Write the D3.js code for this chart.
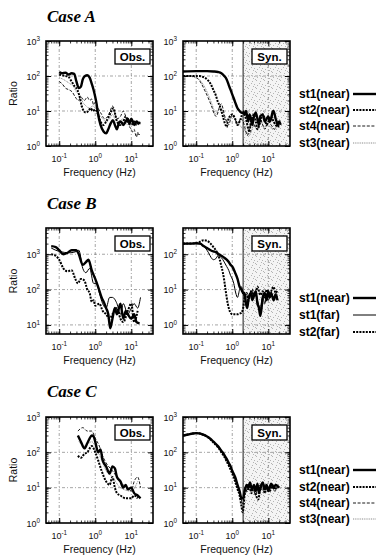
<!DOCTYPE html>
<html><head><meta charset="utf-8">
<script src="https://cdn.jsdelivr.net/npm/d3@7"></script>
<style>body{margin:0;background:#fff}svg{display:block}</style>
</head><body><svg id="c" width="376" height="560"></svg>
<script>
// ---------------- DATA ----------------
const caseTitles = ["Case A", "Case B", "Case C"];
const xTicks = [0.1, 1, 10];
const xDomain = [0.043, 40];
const yDomainA = [1, 1000], yTicksA = [1, 10, 100, 1000];
const yDomainBobs = [5.53, 5530], yTicksBobs = [10, 100, 1000];
const yDomainBsyn = [0.553, 553], yTicksBsyn = [1, 10, 100];
const yDomainC = [1, 1000], yTicksC = [1, 10, 100, 1000];
const synCutoff = 2;
const legendA = ["st1(near)", "st2(near)", "st4(near)", "st3(near)"];
const legendB = ["st1(near)", "st1(far)", "st2(far)"];
const legendC = ["st1(near)", "st2(near)", "st4(near)", "st3(near)"];

// Case A observed
const obsA_st1 = [[0.1,130],[0.12,120],[0.15,125],[0.18,110],[0.22,120],[0.26,115],[0.3,70],[0.35,45],[0.4,50],[0.45,80],[0.52,100],[0.6,105],[0.7,90],[0.8,60],[0.9,40],[1.0,25],[1.1,15],[1.2,8],[1.4,4],[1.7,2.6],[2.0,2.3],[2.3,3],[2.7,4.5],[3.1,5.5],[3.5,4],[4,3],[4.5,4.5],[5,5],[6,4],[7,5],[8,6],[9,4.5],[10,6],[11,5],[12,4],[14,5],[16,4.5],[18,4.5]];
const obsA_st2 = [[0.1,110],[0.12,105],[0.15,100],[0.18,95],[0.22,70],[0.27,50],[0.32,40],[0.37,25],[0.42,14],[0.48,10],[0.55,9],[0.65,10],[0.75,12],[0.85,10],[1.0,11],[1.2,8],[1.4,5],[1.7,4],[2.0,5],[2.4,7],[2.8,10],[3.2,12],[3.6,8],[4,5],[5,4],[6,5],[7,7],[8,5],[10,4],[12,5],[14,4],[17,5]];
const obsA_st4 = [[0.1,70],[0.12,60],[0.15,45],[0.19,40],[0.23,35],[0.28,25],[0.34,20],[0.4,25],[0.5,20],[0.6,25],[0.7,20],[0.8,22],[0.9,15],[1.0,18],[1.2,12],[1.5,8],[1.8,6],[2.2,7],[2.6,10],[3.0,14],[3.4,9],[4,6],[5,7],[6,10],[7,7],[8,5],[9,3.5],[10,3],[11,2.5],[12,3],[13,2.2],[14,1.8],[15,2.5],[16,2],[17,2.2]];
const obsA_st3 = [[0.1,90],[0.13,80],[0.16,70],[0.2,60],[0.25,50],[0.3,35],[0.38,28],[0.45,18],[0.55,14],[0.7,12],[0.85,14],[1.0,12],[1.3,8],[1.6,6],[2,5],[2.5,6],[3,8],[3.5,6],[4.5,5],[6,6],[8,4],[10,5],[13,4],[17,5]];
// Case A synthetic
const synA_st1 = [[0.043,135],[0.1,138],[0.2,138],[0.3,135],[0.4,130],[0.5,120],[0.6,100],[0.7,80],[0.8,55],[0.9,40],[1.0,30],[1.2,18],[1.4,12],[1.6,10],[1.8,9],[2.0,9],[2.2,8],[2.4,10],[2.6,7],[2.8,5],[3.0,8],[3.3,6],[3.6,4],[4,7],[4.5,9],[5,6],[5.5,4],[6,7],[7,8],[8,5],[9,6],[10,7],[11,5],[12,6],[13,9],[14,10],[15,8],[16,6],[17,5],[18,4],[20,5],[22,4]];
const synA_st2 = [[0.043,100],[0.08,100],[0.12,100],[0.15,95],[0.2,80],[0.25,60],[0.3,40],[0.35,28],[0.4,18],[0.45,14],[0.5,10],[0.55,7],[0.6,5],[0.65,4],[0.7,3.5],[0.75,5],[0.85,7],[1.0,8],[1.2,6],[1.4,4],[1.6,5],[1.8,7],[2.0,10],[2.2,8],[2.5,5],[2.8,3],[3.0,2.5],[3.2,4],[3.5,6],[4,8],[4.5,5],[5,3],[6,5],[7,8],[8,6],[9,4],[10,5],[12,7],[14,5],[16,4],[18,3.5],[20,4]];
const synA_st4 = [[0.043,100],[0.07,100],[0.09,95],[0.11,85],[0.14,60],[0.17,40],[0.2,28],[0.24,18],[0.28,12],[0.32,8],[0.36,7],[0.4,9],[0.45,14],[0.5,16],[0.55,12],[0.6,8],[0.7,5],[0.8,4],[0.9,6],[1.0,8],[1.2,6],[1.4,4],[1.7,6],[2,5],[2.3,3],[2.6,2],[3,3],[3.5,5],[4,4],[5,3],[6,6],[7,4],[8,3],[10,5],[12,4],[15,3],[18,4]];
const synA_st3 = [[0.043,100],[0.08,95],[0.12,80],[0.16,55],[0.2,35],[0.25,20],[0.3,12],[0.35,8],[0.4,10],[0.5,12],[0.6,7],[0.7,5],[0.85,6],[1.0,7],[1.3,5],[1.6,4],[2,3],[2.5,2.5],[3,2],[3.5,3],[4,4],[5,3],[6,5],[8,3.5],[10,4],[13,3],[17,3.5]];
// Case B observed
const obsB_st1near = [[0.06,1700],[0.08,1600],[0.1,1300],[0.13,1000],[0.17,1100],[0.22,1300],[0.3,1300],[0.35,1000],[0.45,500],[0.55,600],[0.65,700],[0.8,350],[1.0,200],[1.2,120],[1.5,60],[1.8,40],[2.0,30],[2.3,20],[2.6,8],[3,15],[3.5,30],[4,20],[5,40],[6,15],[7,25],[8,20],[10,15],[12,20],[14,12],[17,11]];
const obsB_st1far = [[0.06,1500],[0.1,1200],[0.2,1100],[0.3,1200],[0.35,1300],[0.45,400],[0.55,300],[0.7,400],[0.9,150],[1.1,150],[1.3,80],[1.6,40],[2,30],[2.5,60],[3,60],[4,40],[5,20],[6,40],[8,20],[10,30],[12,40],[15,30],[18,60]];
const obsB_st2far = [[0.06,1000],[0.08,900],[0.1,700],[0.13,400],[0.17,330],[0.22,350],[0.28,200],[0.33,150],[0.4,200],[0.5,180],[0.6,100],[0.7,80],[0.8,45],[0.9,50],[1.0,35],[1.3,40],[1.6,25],[2,20],[2.5,15],[3,20],[4,30],[5,15],[6,12],[8,25],[10,40],[12,12],[15,25]];
// Case B synthetic
const synB_st1near = [[0.043,200],[0.07,200],[0.1,205],[0.13,200],[0.16,170],[0.2,150],[0.25,130],[0.3,120],[0.35,115],[0.4,105],[0.5,90],[0.6,80],[0.7,70],[0.8,60],[0.9,50],[1.0,45],[1.2,30],[1.4,20],[1.6,12],[1.8,10],[2.0,8],[2.2,8],[2.4,4],[2.6,3],[2.8,5],[3,7],[3.3,8],[3.6,5],[4,7],[4.5,9],[5,4],[5.5,3],[6,1.8],[6.5,3],[7,6],[8,8],[9,5],[10,9],[11,6],[12,8],[14,5],[16,7],[18,5]];
const synB_st1far = [[0.043,200],[0.07,200],[0.1,200],[0.14,190],[0.18,150],[0.22,110],[0.26,80],[0.3,70],[0.35,75],[0.4,90],[0.5,80],[0.6,60],[0.7,45],[0.8,35],[0.9,25],[1.0,20],[1.1,15],[1.25,8],[1.4,6],[1.6,10],[1.8,12],[2.0,8],[2.3,5],[2.6,4],[3,7],[3.5,9],[4,6],[4.5,8],[5,5],[6,3],[7,6],[8,4],[9,7],[10,5],[12,8],[14,6],[16,8],[18,6]];
const synB_st2far = [[0.043,200],[0.08,200],[0.12,220],[0.16,250],[0.2,240],[0.25,200],[0.3,160],[0.35,130],[0.4,100],[0.45,70],[0.5,45],[0.55,30],[0.6,18],[0.65,10],[0.7,6],[0.75,4],[0.8,3],[0.9,2.2],[1.0,2],[1.2,2],[1.4,2],[1.6,2.1],[1.8,2.2],[2.0,3],[2.2,6],[2.5,8],[2.8,5],[3.2,8],[3.6,10],[4,6],[4.5,8],[5,12],[6,7],[7,9],[8,6],[9,10],[10,7],[12,9],[14,12],[16,8],[18,10]];
// Case C observed
const obsC_st1 = [[0.33,300],[0.4,200],[0.5,130],[0.6,180],[0.7,250],[0.8,300],[0.9,280],[1.0,200],[1.2,100],[1.4,120],[1.6,60],[2,40],[2.5,25],[3,40],[3.5,35],[4,20],[5,15],[6,10],[7,12],[8,9],[10,10],[12,7],[15,6],[18,5]];
const obsC_st2 = [[0.33,80],[0.4,70],[0.5,90],[0.6,100],[0.8,150],[1.0,100],[1.2,60],[1.5,30],[2,15],[2.5,12],[3,20],[3.5,10],[4,7],[5,6],[7,5],[10,5],[12,6],[15,5]];
const obsC_st4 = [[0.33,400],[0.45,500],[0.6,400],[0.8,400],[1.0,250],[1.3,150],[1.6,80],[2,50],[3,30],[4,20],[6,12],[8,10],[10,8],[12,15],[15,20],[18,10]];
const obsC_st3 = [[0.35,200],[0.5,150],[0.8,200],[1.0,150],[1.5,60],[2,30],[3,20],[5,10],[10,8],[15,15]];
// Case C synthetic
const synC_st1 = [[0.043,300],[0.06,320],[0.08,340],[0.1,350],[0.12,345],[0.15,320],[0.2,280],[0.25,240],[0.3,200],[0.4,150],[0.5,110],[0.6,85],[0.7,65],[0.8,50],[0.9,40],[1.0,30],[1.2,20],[1.4,12],[1.6,8],[1.8,5],[2.0,5],[2.2,8],[2.5,12],[2.8,10],[3.1,14],[3.5,9],[4,12],[4.5,8],[5,13],[5.5,7],[6,10],[7,14],[8,9],[9,12],[10,8],[12,13],[14,10],[16,12],[18,11],[20,10]];
const synC_st2 = [[0.043,300],[0.06,320],[0.08,340],[0.1,350],[0.12,345],[0.15,320],[0.2,280],[0.25,230],[0.3,190],[0.4,140],[0.5,100],[0.6,75],[0.7,55],[0.8,42],[0.9,32],[1.0,25],[1.2,15],[1.4,9],[1.6,6],[1.8,3],[1.95,2],[2.1,3.5],[2.3,10],[2.6,8],[3,12],[3.4,7],[4,10],[4.6,6],[5.2,4.6],[6,9],[7,12],[8,7],[9,10],[11,8],[13,12],[15,9],[18,12]];
const synC_st4 = [[0.043,300],[0.08,335],[0.12,340],[0.2,275],[0.3,195],[0.5,105],[0.7,60],[0.9,36],[1.1,22],[1.4,11],[1.7,6],[1.9,3.5],[2.1,5],[2.4,9],[2.8,13],[3.2,8],[3.8,11],[4.4,6],[5,9],[6,12],[7,8],[8.5,13],[10,9],[12,11],[15,8],[18,10]];
const synC_st3 = [[0.043,300],[0.1,345],[0.2,278],[0.3,198],[0.5,108],[0.7,62],[0.9,38],[1.2,18],[1.5,9],[1.8,4.5],[2.1,6],[2.5,11],[3,9],[3.5,12],[4.2,7],[5,10],[6,8],[7.5,12],[9,9],[11,11],[14,9],[18,10]];

// ---------------- STYLES ----------------
const lineStyle = {
  "st1(near)": {w: 2.4, dash: null, c: "#000"},
  "st2(near)": {w: 2.0, dash: "2,1.2", c: "#000"},
  "st4(near)": {w: 0.9, dash: "3,1.6", c: "#000"},
  "st3(near)": {w: 1.0, dash: "1,0.8", c: "#8a8a8a"},
  "st1(far)":  {w: 1.0, dash: null, c: "#000"},
  "st2(far)":  {w: 2.0, dash: "2,1.2", c: "#000"}
};

const svg = d3.select("#c");
const font = "'Liberation Sans', Arial, sans-serif";

// stipple pattern for the synthetic high-frequency zone
const defs = svg.append("defs");
const pat = defs.append("pattern").attr("id", "stip").attr("patternUnits", "userSpaceOnUse")
  .attr("width", 8).attr("height", 8);
pat.append("rect").attr("width", 8).attr("height", 8).attr("fill", "#f4f4f4");
[[0,0],[4,1],[6,4],[1,5],[3,3],[7,7],[5,6]].forEach(p =>
  pat.append("rect").attr("x", p[0]).attr("y", p[1]).attr("width", 1).attr("height", 1).attr("fill", "#b4b4b4"));

const PW = 107;
const panels = [
  {x0: 46,  y0: 41,  h: 105, yDom: yDomainA, yT: yTicksA, syn: false, series: [["st4(near)", obsA_st4],["st3(near)", obsA_st3],["st2(near)", obsA_st2],["st1(near)", obsA_st1]], box: "Obs."},
  {x0: 183, y0: 41,  h: 105, yDom: yDomainA, yT: yTicksA, syn: true,  series: [["st3(near)", synA_st3],["st4(near)", synA_st4],["st2(near)", synA_st2],["st1(near)", synA_st1]], box: "Syn."},
  {x0: 46,  y0: 228, h: 106, yDom: yDomainBobs, yT: yTicksBobs, syn: false, series: [["st1(far)", obsB_st1far],["st2(far)", obsB_st2far],["st1(near)", obsB_st1near]], box: "Obs."},
  {x0: 183, y0: 228, h: 106, yDom: yDomainBsyn, yT: yTicksBsyn, syn: true,  series: [["st1(far)", synB_st1far],["st2(far)", synB_st2far],["st1(near)", synB_st1near]], box: "Syn."},
  {x0: 46,  y0: 417, h: 106, yDom: yDomainC, yT: yTicksC, syn: false, series: [["st3(near)", obsC_st3],["st4(near)", obsC_st4],["st2(near)", obsC_st2],["st1(near)", obsC_st1]], box: "Obs."},
  {x0: 183, y0: 417, h: 106, yDom: yDomainC, yT: yTicksC, syn: true,  series: [["st3(near)", synC_st3],["st4(near)", synC_st4],["st2(near)", synC_st2],["st1(near)", synC_st1]], box: "Syn."}
];

function minorVals(dom) {
  const out = [];
  const lo = Math.floor(Math.log10(dom[0])), hi = Math.ceil(Math.log10(dom[1]));
  for (let d = lo; d <= hi; d++) for (let k = 1; k <= 9; k++) {
    const v = k * Math.pow(10, d);
    if (v >= dom[0] * 1.0001 && v <= dom[1] * 0.9999) out.push(v);
  }
  return out;
}
function expLabel(sel, v, size) {
  const e = Math.round(Math.log10(v));
  sel.append("tspan").text("10").attr("font-size", size);
  sel.append("tspan").text(e < 0 ? "-" + (-e) : String(e)).attr("font-size", size * 0.7).attr("dy", -size * 0.42);
}

panels.forEach((p, i) => {
  const x = d3.scaleLog().domain(xDomain).range([p.x0, p.x0 + PW]);
  const y = d3.scaleLog().domain(p.yDom).range([p.y0 + p.h, p.y0]);
  const g = svg.append("g");
  const cid = "clip" + i;
  defs.append("clipPath").attr("id", cid).append("rect")
    .attr("x", p.x0).attr("y", p.y0).attr("width", PW).attr("height", p.h);

  if (p.syn) {
    g.append("rect").attr("x", x(synCutoff)).attr("y", p.y0)
      .attr("width", p.x0 + PW - x(synCutoff)).attr("height", p.h).attr("fill", "url(#stip)");
  }
  // grid
  const grid = g.append("g").attr("stroke", "#6a6a6a").attr("stroke-width", 0.6).attr("stroke-dasharray", "3,2,1,2");
  xTicks.forEach(t => grid.append("line").attr("x1", x(t)).attr("x2", x(t)).attr("y1", p.y0).attr("y2", p.y0 + p.h));
  p.yT.forEach(t => { if (y(t) > p.y0 + 1 && y(t) < p.y0 + p.h - 1)
    grid.append("line").attr("x1", p.x0).attr("x2", p.x0 + PW).attr("y1", y(t)).attr("y2", y(t)); });
  if (p.syn) {
    g.append("line").attr("x1", x(synCutoff)).attr("x2", x(synCutoff)).attr("y1", p.y0).attr("y2", p.y0 + p.h)
      .attr("stroke", "#000").attr("stroke-width", 0.9);
  }
  // series
  const line = d3.line().x(d => x(d[0])).y(d => y(d[1])).curve(d3.curveMonotoneX);
  const sg = g.append("g").attr("clip-path", `url(#${cid})`);
  p.series.forEach(([name, data]) => {
    const st = lineStyle[name];
    sg.append("path").attr("d", line(data)).attr("fill", "none").attr("stroke", st.c)
      .attr("stroke-width", st.w).attr("stroke-dasharray", st.dash).attr("stroke-linejoin", "round");
  });
  // axes (inward ticks)
  const mxv = minorVals(xDomain), myv = minorVals(p.yDom);
  const axes = [
    [d3.axisBottom(x), `translate(0,${p.y0 + p.h})`, mxv, xTicks],
    [d3.axisTop(x), `translate(0,${p.y0})`, mxv, xTicks],
    [d3.axisLeft(y), `translate(${p.x0},0)`, myv, p.yT],
    [d3.axisRight(y), `translate(${p.x0 + PW},0)`, myv, p.yT]
  ];
  axes.forEach(([ax, tr, minor, major]) => {
    const a1 = g.append("g").attr("transform", tr)
      .call(ax.tickValues(minor).tickSize(-2.5).tickFormat("").tickSizeOuter(0));
    a1.select(".domain").remove();
    a1.selectAll("line").attr("stroke-width", 0.8);
    const a2 = g.append("g").attr("transform", tr)
      .call(ax.tickValues(major).tickSize(-5).tickFormat("").tickSizeOuter(0));
    a2.select(".domain").remove();
    a2.selectAll("line").attr("stroke-width", 1);
  });
  g.append("rect").attr("x", p.x0).attr("y", p.y0).attr("width", PW).attr("height", p.h)
    .attr("fill", "none").attr("stroke", "#000").attr("stroke-width", 1.6);

  // tick labels
  xTicks.forEach(t => {
    const tx = g.append("text").attr("x", x(t)).attr("y", p.y0 + p.h + 16).attr("text-anchor", "middle")
      .attr("font-family", font).attr("fill", "#111");
    expLabel(tx, t, 9);
  });
  p.yT.forEach(t => {
    const tx = g.append("text").attr("x", p.x0 - 6).attr("y", y(t) + 3.5).attr("text-anchor", "end")
      .attr("font-family", font).attr("fill", "#111");
    expLabel(tx, t, 9);
  });
  g.append("text").attr("x", p.x0 + PW / 2).attr("y", p.y0 + p.h + 30).attr("text-anchor", "middle")
    .attr("font-family", font).attr("font-size", 10.5).attr("fill", "#111").text("Frequency (Hz)");
  if (!p.syn) {
    g.append("text").attr("transform", `translate(${17},${p.y0 + p.h / 2}) rotate(-90)`)
      .attr("text-anchor", "middle").attr("font-family", font).attr("font-size", 10.5).attr("fill", "#111").text("Ratio");
  }
  // Obs./Syn. box
  const bx = p.x0 + PW - 38, by = p.y0 + 8;
  g.append("rect").attr("x", bx).attr("y", by).attr("width", 35).attr("height", 15)
    .attr("fill", "#fff").attr("stroke", "#000").attr("stroke-width", 1.3);
  g.append("text").attr("x", bx + 17.5).attr("y", by + 11.5).attr("text-anchor", "middle")
    .attr("font-family", font).attr("font-weight", "bold").attr("font-size", 11.5).text(p.box);
});

// case titles
[[47, 22], [47, 209], [47, 397]].forEach((pos, i) => {
  svg.append("text").attr("x", pos[0]).attr("y", pos[1]).attr("font-family", "'Liberation Serif', 'Times New Roman', serif")
    .attr("font-style", "italic").attr("font-weight", "bold").attr("font-size", 17).text(caseTitles[i]);
});

// legends
const legends = [[legendA, [94, 110, 126, 143]], [legendB, [298, 315, 332]], [legendC, [470, 487, 503, 519]]];
legends.forEach(([names, ys]) => {
  names.forEach((n, k) => {
    const st = lineStyle[n];
    svg.append("text").attr("x", 299).attr("y", ys[k] + 4).attr("font-family", font)
      .attr("font-weight", "bold").attr("font-size", 12).text(n);
    svg.append("line").attr("x1", 353).attr("x2", 376).attr("y1", ys[k]).attr("y2", ys[k])
      .attr("stroke", st.c).attr("stroke-width", st.w).attr("stroke-dasharray", st.dash);
  });
});
</script></body></html>
